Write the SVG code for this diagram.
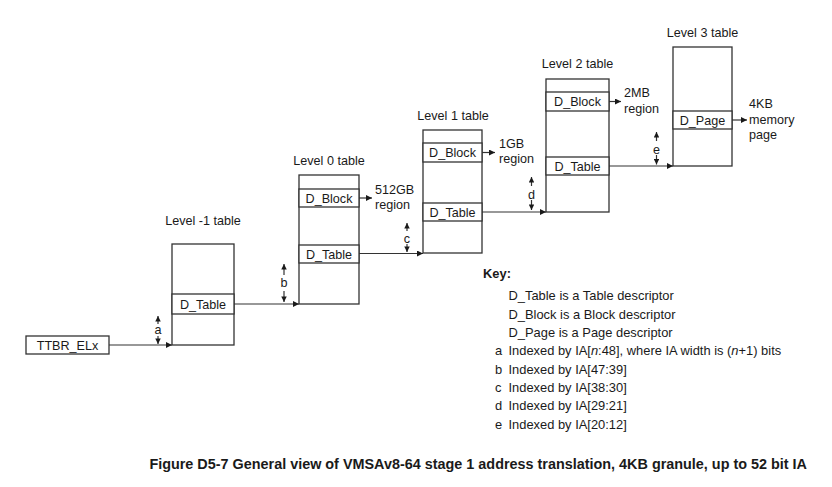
<svg xmlns="http://www.w3.org/2000/svg" width="832" height="487" viewBox="0 0 832 487">
<style>
text{font-family:"Liberation Sans",Arial,sans-serif;font-size:12.6px;fill:#1a1a1a}
.c{text-anchor:middle}
.b{font-weight:bold}
.k{font-size:12.9px}
.box{fill:#fff;stroke:#333;stroke-width:1.3}
.ln{stroke:#333;stroke-width:1.2;fill:none}
</style>
<defs>
<marker id="ah" viewBox="0 0 10 10" refX="10" refY="5" markerWidth="7" markerHeight="6" markerUnits="userSpaceOnUse" orient="auto">
<path d="M0,0L10,5L0,10z" fill="#1a1a1a"/>
</marker>
<marker id="sh" viewBox="0 0 10 10" refX="10" refY="5" markerWidth="6" markerHeight="5.5" markerUnits="userSpaceOnUse" orient="auto">
<path d="M0,0L10,5L0,10z" fill="#1a1a1a"/>
</marker>
</defs>
<rect width="832" height="487" fill="#fff"/>
<g id="ttbr">
<rect class="box" x="26" y="336" width="83" height="18"/>
<text class="c" x="67.5" y="349.5">TTBR_ELx</text>
</g>
<g id="levelm1">
<text class="c" x="203" y="225">Level -1 table</text>
<rect class="box" x="172" y="244" width="62" height="101"/>
<rect class="box" x="172" y="294" width="62" height="20"/>
<text class="c" x="203" y="308.5">D_Table</text>
</g>
<g id="level0">
<text class="c" x="329" y="165">Level 0 table</text>
<rect class="box" x="299" y="175" width="60" height="129"/>
<rect class="box" x="299" y="189" width="60" height="18"/>
<text class="c" x="329" y="202.5">D_Block</text>
<rect class="box" x="299" y="245" width="60" height="18"/>
<text class="c" x="329" y="258.5">D_Table</text>
<text x="375" y="194">512GB</text>
<text x="375" y="209">region</text>
</g>
<g id="level1">
<text class="c" x="453" y="119.5">Level 1 table</text>
<rect class="box" x="423" y="130" width="59" height="123"/>
<rect class="box" x="423" y="143" width="59" height="19"/>
<text class="c" x="452.5" y="157">D_Block</text>
<rect class="box" x="423" y="203" width="59" height="18"/>
<text class="c" x="452.5" y="216.5">D_Table</text>
<text x="499" y="148">1GB</text>
<text x="499" y="163">region</text>
</g>
<g id="level2">
<text class="c" x="577.5" y="68">Level 2 table</text>
<rect class="box" x="546" y="79" width="63" height="133"/>
<rect class="box" x="546" y="92" width="63" height="19"/>
<text class="c" x="577.5" y="106">D_Block</text>
<rect class="box" x="546" y="157" width="63" height="18"/>
<text class="c" x="577.5" y="170.5">D_Table</text>
<text x="624" y="97">2MB</text>
<text x="624" y="113">region</text>
</g>
<g id="level3">
<text class="c" x="702.5" y="37">Level 3 table</text>
<rect class="box" x="673" y="47" width="59" height="119"/>
<rect class="box" x="673" y="111" width="59" height="18"/>
<text class="c" x="702.5" y="124.5">D_Page</text>
<text x="749" y="108">4KB</text>
<text x="749" y="123.5">memory</text>
<text x="749" y="139">page</text>
</g>
<g id="connectors">
<line class="ln" x1="109" y1="345" x2="172" y2="345" marker-end="url(#ah)"/>
<line class="ln" x1="234" y1="304" x2="299" y2="304" marker-end="url(#ah)"/>
<line class="ln" x1="359" y1="253.5" x2="423" y2="253.5" marker-end="url(#ah)"/>
<line class="ln" x1="482" y1="212" x2="546" y2="212" marker-end="url(#ah)"/>
<line class="ln" x1="609" y1="166" x2="673" y2="166" marker-end="url(#ah)"/>
<line class="ln" x1="359" y1="198" x2="372" y2="198" marker-end="url(#ah)"/>
<line class="ln" x1="482" y1="152.5" x2="495" y2="152.5" marker-end="url(#ah)"/>
<line class="ln" x1="609" y1="101.5" x2="621" y2="101.5" marker-end="url(#ah)"/>
<line class="ln" x1="732" y1="120" x2="747" y2="120" marker-end="url(#ah)"/>
<line class="ln" x1="158" y1="324" x2="158" y2="316" marker-end="url(#sh)"/>
<line class="ln" x1="158" y1="336" x2="158" y2="344" marker-end="url(#sh)"/>
<line class="ln" x1="284" y1="275" x2="284" y2="264" marker-end="url(#sh)"/>
<line class="ln" x1="284" y1="291" x2="284" y2="302" marker-end="url(#sh)"/>
<line class="ln" x1="407" y1="231" x2="407" y2="223" marker-end="url(#sh)"/>
<line class="ln" x1="407" y1="244" x2="407" y2="252" marker-end="url(#sh)"/>
<line class="ln" x1="531.5" y1="186" x2="531.5" y2="177" marker-end="url(#sh)"/>
<line class="ln" x1="531.5" y1="200" x2="531.5" y2="210" marker-end="url(#sh)"/>
<line class="ln" x1="656.5" y1="141" x2="656.5" y2="132" marker-end="url(#sh)"/>
<line class="ln" x1="656.5" y1="155" x2="656.5" y2="164.5" marker-end="url(#sh)"/>
</g>
<g id="dimlabels">
<text class="c" x="158" y="333.5">a</text>
<text class="c" x="284" y="287">b</text>
<text class="c" x="407" y="243">c</text>
<text class="c" x="531.5" y="198.5">d</text>
<text class="c" x="656.5" y="153.5">e</text>
</g>
<g id="key">
<text class="b k" x="483" y="278">Key:</text>
<text class="k" x="508.5" y="300">D_Table is a Table descriptor</text>
<text class="k" x="508.5" y="318.5">D_Block is a Block descriptor</text>
<text class="k" x="508.5" y="336.5">D_Page is a Page descriptor</text>
<text class="k" x="495" y="355">a</text>
<text class="k" x="508.5" y="355">Indexed by IA[<tspan font-style="italic">n</tspan>:48], where IA width is (<tspan font-style="italic">n</tspan>+1) bits</text>
<text class="k" x="495" y="373.5">b</text>
<text class="k" x="508.5" y="373.5">Indexed by IA[47:39]</text>
<text class="k" x="495" y="391.5">c</text>
<text class="k" x="508.5" y="391.5">Indexed by IA[38:30]</text>
<text class="k" x="495" y="410">d</text>
<text class="k" x="508.5" y="410">Indexed by IA[29:21]</text>
<text class="k" x="495" y="428.5">e</text>
<text class="k" x="508.5" y="428.5">Indexed by IA[20:12]</text>
</g>
<text class="b" x="807" y="469" style="text-anchor:end;font-size:14.4px">Figure D5-7 General view of VMSAv8-64 stage 1 address translation, 4KB granule, up to 52 bit IA</text>
</svg>
